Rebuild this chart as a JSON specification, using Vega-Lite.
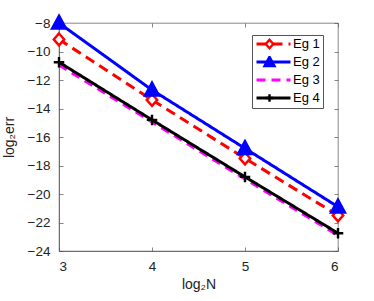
{
  "$schema": "https://vega.github.io/schema/vega-lite/v6.json",
  "autosize": "none",
  "width": 279,
  "height": 228,
  "padding": {"left": 59, "top": 23, "right": 36, "bottom": 50},
  "background": "white",
  "config": {
    "font": "Liberation Sans",
    "view": {"stroke": "#555", "strokeWidth": 0.7},
    "axis": {
      "grid": false,
      "domainColor": "#555",
      "domainWidth": 0.7,
      "tickColor": "#555",
      "tickWidth": 0.7,
      "tickSize": -4,
      "labelFont": "Liberation Sans",
      "labelFontSize": 13.5,
      "labelColor": "#222",
      "titleFont": "Liberation Sans",
      "titleFontSize": 14,
      "titleFontWeight": "normal",
      "titleColor": "#222"
    }
  },
  "data": {
    "values": [
      {"series": "Eg 1", "x": 3, "y": -9.15},
      {"series": "Eg 1", "x": 4, "y": -13.4},
      {"series": "Eg 1", "x": 5, "y": -17.5},
      {"series": "Eg 1", "x": 6, "y": -21.5},
      {"series": "Eg 2", "x": 3, "y": -8.0},
      {"series": "Eg 2", "x": 4, "y": -12.7},
      {"series": "Eg 2", "x": 5, "y": -16.8},
      {"series": "Eg 2", "x": 6, "y": -20.9},
      {"series": "Eg 3", "x": 3, "y": -10.95},
      {"series": "Eg 3", "x": 4, "y": -14.95},
      {"series": "Eg 3", "x": 5, "y": -18.95},
      {"series": "Eg 3", "x": 6, "y": -22.9},
      {"series": "Eg 4", "x": 3, "y": -10.75},
      {"series": "Eg 4", "x": 4, "y": -14.8},
      {"series": "Eg 4", "x": 5, "y": -18.8},
      {"series": "Eg 4", "x": 6, "y": -22.75}
    ]
  },
  "layer": [
    {
      "mark": {"type": "line", "strokeWidth": 3, "clip": false},
      "encoding": {
        "x": {"field": "x", "type": "quantitative", "scale": {"domain": [3, 6], "nice": false},
              "axis": {"title": "log₂N", "values": [3, 4, 5, 6], "labelPadding": 12, "titlePadding": 5}},
        "y": {"field": "y", "type": "quantitative", "scale": {"domain": [-24, -8], "nice": false, "zero": false},
              "axis": {"title": "log₂err", "values": [-24, -22, -20, -18, -16, -14, -12, -10, -8], "labelPadding": 13, "titlePadding": 11}},
        "color": {"field": "series", "type": "nominal",
                  "scale": {"domain": ["Eg 1", "Eg 2", "Eg 3", "Eg 4"], "range": ["#ff0000", "#0000ff", "#ff00ff", "#000000"]},
                  "legend": {"title": null, "orient": "none", "legendX": 193, "legendY": 12,
                             "symbolType": "stroke", "symbolSize": 1156, "symbolStrokeWidth": 3,
                             "labelFontSize": 13, "labelFont": "Liberation Sans", "labelColor": "#000", "labelOffset": 1,
                             "clipHeight": 12, "rowPadding": 5,
                             "strokeColor": "#555", "padding": 3}},
        "strokeDash": {"field": "series", "type": "nominal",
                       "scale": {"domain": ["Eg 1", "Eg 2", "Eg 3", "Eg 4"], "range": [[10, 6], [1, 0], [9, 6], [1, 0]]},
                       "legend": {"title": null, "orient": "none", "legendX": 193, "legendY": 12}}
      }
    },
    {
      "mark": {"type": "point", "strokeWidth": 2.4, "opacity": 1, "size": 196, "clip": false},
      "encoding": {
        "x": {"field": "x", "type": "quantitative", "scale": {"domain": [3, 6], "nice": false},
              "axis": {"orient": "top", "title": null, "labels": false, "values": [3, 4, 5, 6], "domain": false}},
        "y": {"field": "y", "type": "quantitative", "scale": {"domain": [-24, -8], "nice": false, "zero": false},
              "axis": {"orient": "right", "title": null, "labels": false, "values": [-24, -22, -20, -18, -16, -14, -12, -10, -8], "domain": false}},
        "shape": {"field": "series", "type": "nominal",
                  "scale": {"domain": ["Eg 4", "Eg 3", "Eg 2", "Eg 1"],
                            "range": ["M-0.75,0H0.75M0,-0.75V0.75", "M0,0", "M0,-1.05L1,0.8L-1,0.8Z", "M0,-0.85L0.75,0L0,0.85L-0.75,0Z"]},
                  "legend": {"title": null, "orient": "none", "legendX": 193, "legendY": 12,
                             "values": ["Eg 1", "Eg 2", "Eg 3", "Eg 4"],
                             "symbolStrokeWidth": 2.4, "symbolOffset": 8,
                             "labelExpr": "''", "labelFontSize": 13, "labelOffset": 1,
                             "clipHeight": 12, "rowPadding": 5, "padding": 3}},
        "stroke": {"field": "series", "type": "nominal",
                   "scale": {"domain": ["Eg 4", "Eg 3", "Eg 2", "Eg 1"], "range": ["#000000", "#ff00ff", "#0000ff", "#ff0000"]},
                   "legend": {"title": null, "orient": "none", "legendX": 193, "legendY": 12, "values": ["Eg 1", "Eg 2", "Eg 3", "Eg 4"]}},
        "fill": {"field": "series", "type": "nominal",
                 "scale": {"domain": ["Eg 4", "Eg 3", "Eg 2", "Eg 1"], "range": ["transparent", "transparent", "#0000ff", "#ffffff"]},
                 "legend": {"title": null, "orient": "none", "legendX": 193, "legendY": 12, "values": ["Eg 1", "Eg 2", "Eg 3", "Eg 4"]}}
      }
    }
  ],
  "resolve": {"axis": {"x": "independent", "y": "independent"}}
}
